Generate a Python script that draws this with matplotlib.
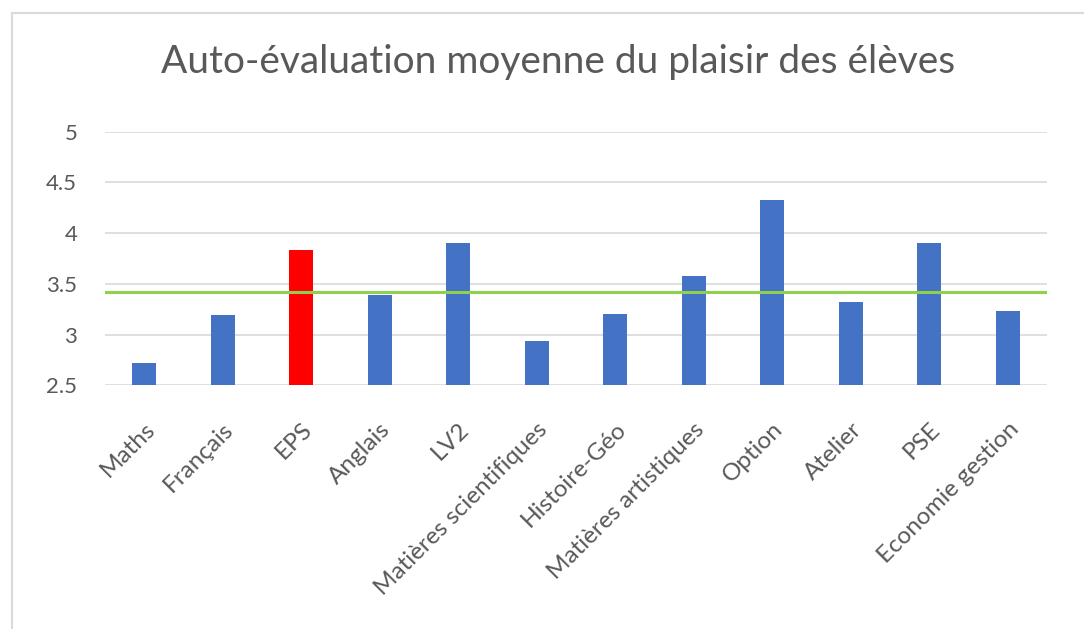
import numpy as np
import matplotlib.pyplot as plt
from matplotlib.patches import Rectangle

matieres = ["Maths", "Français", "EPS", "Anglais", "LV2", "Matières scientifiques",
            "Histoire-Géo", "Matières artistiques", "Option", "Atelier", "PSE",
            "Economie gestion"]
plaisir = [2.72, 3.19, 3.83, 3.39, 3.90, 2.94, 3.20, 3.58, 4.33, 3.32, 3.90, 3.23]
moyenne = 3.42
yticks = [2.5, 3, 3.5, 4, 4.5, 5]
ylabels = ["2.5", "3", "3.5", "4", "4.5", "5"]

plt.rcParams['font.family'] = ['Lato', 'DejaVu Sans']
gris = "#595959"

fig = plt.figure(figsize=(10.84, 6.29), dpi=100)
ax = fig.add_axes([105/1084, 1-385.3/629, 942/1084, (385.3-131.7)/629])

# cadre du graphique
fig.patches.append(Rectangle((12/1084, -0.1), 1.2, 1-13/629+0.1, transform=fig.transFigure,
                             fill=False, edgecolor="#dadada", linewidth=1.5))

x = np.arange(len(matieres))
couleurs = ["#FF0000" if m == "EPS" else "#4472C4" for m in matieres]
ax.bar(x, np.array(plaisir) - 2.5, bottom=2.5, width=0.31, color=couleurs, zorder=2)
ax.axhline(moyenne, color="#8FD14F", linewidth=2.2, zorder=3)

ax.set_xlim(-0.5, len(matieres) - 0.5)
ax.set_ylim(2.5, 5)
ax.set_yticks(yticks)
ax.set_yticklabels(ylabels)
ax.yaxis.grid(True, color="#d9d9d9", linewidth=1.2, zorder=0)
ax.set_axisbelow(True)
for s in ax.spines.values():
    s.set_visible(False)
ax.tick_params(axis='y', length=0, pad=20, labelsize=16, labelcolor=gris)
ax.tick_params(axis='x', length=0, pad=24, labelsize=17.5, labelcolor=gris)
ax.set_xticks(x)
ax.set_xticklabels(matieres, rotation=45, ha='right', va='top', rotation_mode='anchor')

fig.text(558/1084, 1-62/629, "Auto-évaluation moyenne du plaisir des élèves",
         ha='center', va='center', fontsize=28, color=gris)

fig.savefig("out.png", dpi=100)
